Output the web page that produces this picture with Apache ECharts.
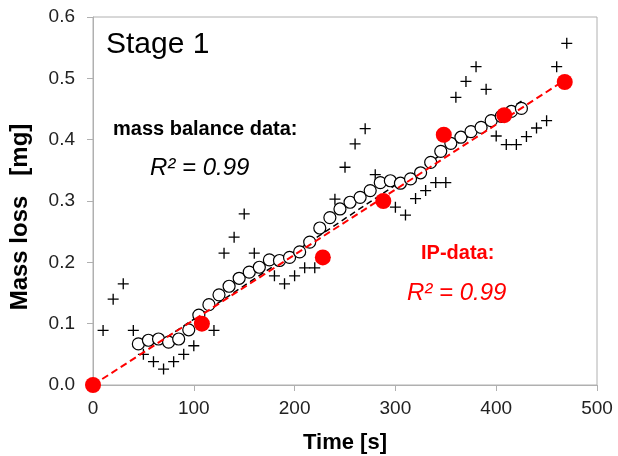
<!DOCTYPE html>
<html>
<head>
<meta charset="utf-8">
<script src="https://cdn.jsdelivr.net/npm/echarts@6/dist/echarts.min.js"></script>
<style>html,body{margin:0;padding:0;background:#fff;}#c{width:618px;height:456px;}</style>
</head>
<body>
<div id="c"></div>
<script>
// Mass balance data (smoothed, open circles)
const timeMB = [45,55,65,75,85,95,105,115,125,135,145,155,165,175,185,195,205,215,225,235,245,255,265,275,285,295,305,315,325,335,345,355,365,375,385,395,405,415,425];
const massMB = [0.067,0.073,0.075,0.070,0.075,0.090,0.114,0.131,0.147,0.161,0.174,0.184,0.192,0.204,0.203,0.208,0.217,0.233,0.256,0.273,0.287,0.298,0.306,0.317,0.330,0.333,0.329,0.336,0.346,0.363,0.381,0.394,0.404,0.413,0.420,0.431,0.438,0.446,0.451];
// Raw mass balance data (plus markers)
const timeRaw = [10,20,30,40,50,60,70,80,90,100,110,120,130,140,150,160,180,190,200,210,220,230,240,250,260,270,280,290,300,310,320,330,340,350,360,370,380,390,400,410,420,430,440,450,460,470];
const massRaw = [0.089,0.140,0.165,0.089,0.050,0.038,0.026,0.038,0.050,0.064,0.100,0.089,0.215,0.241,0.279,0.215,0.178,0.165,0.178,0.191,0.191,0.208,0.303,0.355,0.393,0.418,0.343,0.300,0.290,0.277,0.304,0.317,0.330,0.330,0.469,0.495,0.519,0.482,0.406,0.392,0.392,0.405,0.419,0.431,0.519,0.557];
// IP data (red dots)
const timeIP = [0,108,228,288,348,408,468];
const massIP = [0,0.100,0.208,0.300,0.408,0.440,0.494];
// Trend lines (end points)
const trendMBx = [65,428];
const trendMBy = [0.069,0.466];
const trendIPx = [0,468];
const trendIPy = [0,0.497];
// Axis ticks
const xTicks = [0,100,200,300,400,500];
const yTicks = [0.0,0.1,0.2,0.3,0.4,0.5,0.6];

const zip = (a,b) => a.map((v,i)=>[v,b[i]]);
const FONT = 'Liberation Sans';
const plusPath = 'path://M4.4,0h1.2v4.4h4.4v1.2h-4.4v4.4h-1.2v-4.4h-4.4v-1.2h4.4z';

const chart = echarts.init(document.getElementById('c'), null, {renderer:'canvas'});
chart.setOption({
  animation:false,
  backgroundColor:'#fff',
  grid:{left:93,right:21,top:17,bottom:71,show:true,borderColor:'#b0b0b0',borderWidth:1,
        containLabel:false,outerBoundsMode:'none'},
  xAxis:{
    type:'value',min:xTicks[0],max:xTicks[xTicks.length-1],interval:100,
    name:'Time [s]',nameLocation:'middle',nameGap:47,
    nameTextStyle:{fontFamily:FONT,fontWeight:'bold',fontSize:22,color:'#000'},
    axisLine:{show:true,lineStyle:{color:'#b0b0b0',width:1}},
    axisTick:{show:true,inside:false,length:6,lineStyle:{color:'#b0b0b0'}},
    splitLine:{show:false},
    axisLabel:{fontFamily:FONT,fontSize:19,color:'#222',margin:14}
  },
  yAxis:{
    type:'value',min:yTicks[0],max:yTicks[yTicks.length-1],interval:0.1,
    name:'Mass loss   [mg]',nameLocation:'middle',nameGap:61,
    nameTextStyle:{fontFamily:FONT,fontWeight:'bold',fontSize:24,color:'#000',padding:[0,32,0,0]},
    axisLine:{show:true,lineStyle:{color:'#b0b0b0',width:1}},
    axisTick:{show:true,inside:false,length:6,lineStyle:{color:'#b0b0b0'}},
    splitLine:{show:false},
    axisLabel:{fontFamily:FONT,fontSize:19,color:'#222',margin:18,formatter:v=>v.toFixed(1)}
  },
  series:[
    {type:'scatter',name:'raw',data:zip(timeRaw,massRaw),symbol:plusPath,symbolSize:11,
      itemStyle:{color:'#000',opacity:1},z:2},
    {type:'line',name:'trendMB',data:zip(trendMBx,trendMBy),showSymbol:false,symbol:'none',
      lineStyle:{color:'#000',width:1.5,type:[6,4]},z:3},
    {type:'scatter',name:'mb',data:zip(timeMB,massMB),symbol:'circle',symbolSize:12,
      itemStyle:{color:'#fff',borderColor:'#000',borderWidth:1.2,opacity:1},z:4},
    {type:'line',name:'trendIP',data:zip(trendIPx,trendIPy),showSymbol:false,symbol:'none',
      lineStyle:{color:'#ff0000',width:2,type:[7,4]},z:5},
    {type:'scatter',name:'ip',data:zip(timeIP,massIP),symbol:'circle',symbolSize:16,
      itemStyle:{color:'#ff0000',opacity:1},z:6}
  ],
  graphic:[
    {type:'text',left:106,top:30,z:10,style:{text:'Stage 1',fontFamily:FONT,fontSize:30,fill:'#000'}},
    {type:'text',left:113,top:119,z:10,style:{text:'mass balance data:',fontFamily:FONT,fontSize:20,fontWeight:'bold',fill:'#000'}},
    {type:'text',left:150,top:156,z:10,style:{text:'R² = 0.99',fontFamily:FONT,fontSize:24,fontStyle:'italic',fill:'#000'}},
    {type:'text',left:421,top:243,z:10,style:{text:'IP-data:',fontFamily:FONT,fontSize:20,fontWeight:'bold',fill:'#ff0000'}},
    {type:'text',left:407,top:281,z:10,style:{text:'R² = 0.99',fontFamily:FONT,fontSize:24,fontStyle:'italic',fill:'#ff0000'}}
  ]
});
</script>
</body>
</html>
